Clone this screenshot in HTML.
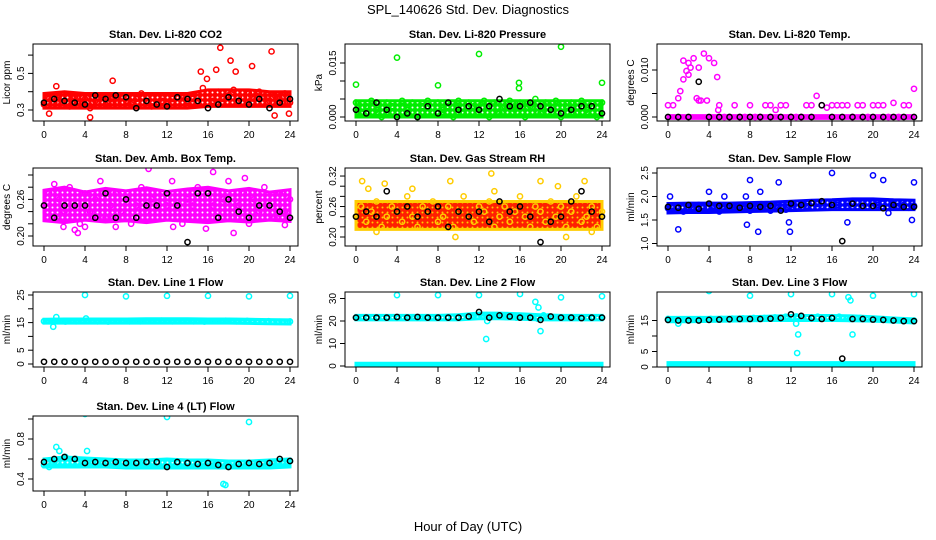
<!DOCTYPE html>
<html><head><meta charset="utf-8"><style>
body{margin:0;background:#fff}
svg{display:block}
text{font-family:"Liberation Sans",sans-serif;fill:#000}
</style></head><body>
<svg id="c" width="936" height="540">
<text x="468" y="14" text-anchor="middle" font-size="13">SPL_140626  Std. Dev. Diagnostics</text>
<text x="468" y="531" text-anchor="middle" font-size="13">Hour of Day (UTC)</text>
</svg>
<script>
const xTicks=[0,4,8,12,16,20,24];
// CO2
const co2Ticks=[0.3,0.4,0.5,0.6], co2Labels=['0.3','','0.5',''];
const co2Vals=[0.33,0.36,0.34,0.38,0.35,0.32,0.37,0.34,0.36,0.31,0.35,0.38,0.33,0.36,0.34,0.37,0.35,0.33,0.36,0.39,0.34,0.32,0.37,0.35,0.33,0.36,0.34,0.38,0.35,0.36,0.34,0.42,0.37,0.35,0.40,0.36,0.38,0.41,0.35,0.37,0.39,0.36,0.40,0.37,0.35,0.38,0.36,0.39,0.34];
const co2OutX=[0.5,1.2,4.5,6.7,15.3,15.9,16.8,17.2,18.2,18.7,20.3,22.2,22.5,23.9];
const co2OutY=[0.28,0.43,0.26,0.46,0.51,0.47,0.52,0.64,0.57,0.51,0.54,0.62,0.27,0.28];
const co2Black=[0.34,0.36,0.35,0.34,0.33,0.38,0.36,0.38,0.37,0.31,0.35,0.33,0.32,0.37,0.36,0.35,0.31,0.33,0.37,0.35,0.33,0.36,0.31,0.34,0.36];
const co2BandLo=[0.31,0.31,0.31,0.31,0.31,0.31,0.31,0.31,0.32,0.32,0.32,0.32,0.32];
const co2BandHi=[0.39,0.40,0.39,0.39,0.39,0.39,0.39,0.39,0.41,0.41,0.41,0.40,0.40];
// Pressure
const prTicks=[0,0.005,0.01,0.015], prLabels=['0.000','','','0.015'];
const prVals=[0.004,0.001,0.003,0.0045,0.002,0.000,0.004,0.003,0.001,0.0045,0.002,0.004,0.000,0.003,0.0045,0.001,0.004,0.002,0.003,0.000,0.0045,0.001,0.004,0.003,0.002,0.0045,0.000,0.004,0.001,0.003,0.0045,0.002,0.004,0.000,0.003,0.005,0.001,0.004,0.002,0.0045,0.000,0.003,0.004,0.001,0.0045,0.002,0.003,0.000,0.004];
const prOutX=[0,4,8,12,15.9,15.9,20,24];
const prOutY=[0.009,0.0165,0.0088,0.0175,0.0095,0.008,0.0195,0.0095];
const prBlack=[0.002,0.001,0.004,0.002,0.000,0.001,0.000,0.003,0.001,0.004,0.002,0.003,0.002,0.003,0.005,0.003,0.003,0.004,0.003,0.002,0.001,0.002,0.003,0.003,0.001];
const prBandLo=[0,0,0,0,0,0,0,0,0,0,0,0,0];
const prBandHi=[0.0045,0.0045,0.0045,0.0045,0.0045,0.0045,0.0045,0.0045,0.0045,0.0045,0.0045,0.0045,0.0045];
// Li-820 Temp
const tpTicks=[0,0.005,0.01], tpLabels=['0.000','','0.010'];
const tpVals=[0.0025,0.0025,0.004,0.012,0.0115,0.0125,0.0035,0.0135,0.0125,0.0115,0.0025,0,0,0.0025,0,0,0.0025,0,0,0.0025,0.0025,0.0015,0.0025,0.0025,0,0,0,0.0025,0.0025,0.0045,0.0025,0.002,0.0025,0.0025,0.0025,0.0025,0,0.0025,0.0025,0,0.0025,0.0025,0.0025,0,0.003,0,0.0025,0.0025,0.006];
const tpOutX=[1.5,2,3,3.2,4.8,4.9,1.8,2.8,3.8,1.2,2.2];
const tpOutY=[0.008,0.009,0.0105,0.0035,0.0085,0.0015,0.0098,0.004,0.0035,0.0055,0.0105];
const tpBlack=[0,0,0,0.0075,0,0,0,0,0,0,0,0,0,0,0,0.0025,0,0,0,0,0,0,0,0,0];
const tpBandLo=[-0.0003,-0.0003,-0.0003,-0.0003,-0.0003,-0.0003,-0.0003,-0.0003,-0.0003,-0.0003,-0.0003,-0.0003,-0.0003];
const tpBandHi=[0.0003,0.0003,0.0003,0.0003,0.0003,0.0003,0.0003,0.0003,0.0003,0.0003,0.0003,0.0003,0.0003];
// Amb box temp
const abTicks=[0.20,0.22,0.24,0.26,0.28,0.30], abLabels=['0.20','','','0.26','',''];
const abVals=[0.25,0.27,0.23,0.26,0.24,0.28,0.25,0.22,0.27,0.24,0.26,0.29,0.23,0.25,0.27,0.24,0.26,0.22,0.25,0.28,0.24,0.26,0.23,0.27,0.25,0.29,0.24,0.22,0.26,0.25,0.28,0.23,0.27,0.25,0.24,0.26,0.29,0.23,0.25,0.27,0.22,0.26,0.24,0.28,0.25,0.23,0.27,0.24,0.26];
const abOutX=[1.0,1.9,3.0,3.3,10.2,12.6,15.8,16.5,18.5,19.6,23.5,4.0,7.0];
const abOutY=[0.285,0.215,0.21,0.205,0.31,0.215,0.212,0.305,0.205,0.295,0.218,0.215,0.215];
const abBlack=[0.25,0.23,0.25,0.25,0.25,0.23,0.27,0.23,0.26,0.23,0.25,0.25,0.27,0.25,0.19,0.27,0.27,0.23,0.26,0.24,0.23,0.25,0.25,0.24,0.23];
const abBandLo=[0.225,0.222,0.226,0.223,0.225,0.222,0.226,0.224,0.222,0.225,0.223,0.226,0.224];
const abBandHi=[0.275,0.28,0.272,0.278,0.274,0.279,0.273,0.277,0.28,0.274,0.278,0.272,0.276];
// RH
const rhTicks=[0.20,0.22,0.24,0.26,0.28,0.30,0.32], rhLabels=['0.20','','','0.26','','','0.32'];
const rhVals=[0.24,0.26,0.23,0.25,0.27,0.22,0.24,0.26,0.25,0.23,0.28,0.24,0.22,0.26,0.25,0.27,0.23,0.24,0.26,0.22,0.25,0.28,0.24,0.23,0.26,0.25,0.27,0.22,0.24,0.26,0.23,0.25,0.28,0.24,0.22,0.26,0.25,0.23,0.27,0.24,0.26,0.22,0.25,0.28,0.23,0.24,0.26,0.22,0.25];
const rhOutX=[0.6,1.2,2.0,2.8,5.5,9.2,9.7,13.2,13.5,18.0,19.7,20.5,22.3,23.0];
const rhOutY=[0.31,0.295,0.21,0.305,0.295,0.31,0.2,0.325,0.29,0.31,0.30,0.2,0.31,0.21];
const rhBlack=[0.24,0.25,0.24,0.29,0.25,0.26,0.24,0.25,0.26,0.22,0.25,0.24,0.25,0.23,0.27,0.25,0.26,0.24,0.19,0.23,0.24,0.27,0.29,0.25,0.24];
const rhBandLo=[0.215,0.215,0.215,0.215,0.215,0.215,0.215,0.215,0.215,0.215,0.215,0.215,0.215];
const rhBandHi=[0.27,0.27,0.27,0.27,0.27,0.27,0.27,0.27,0.27,0.27,0.27,0.27,0.27];
// Sample flow
const sfTicks=[1.0,1.5,2.0,2.5], sfLabels=['1.0','1.5','2.0','2.5'];
const sfVals=[1.75,1.7,1.8,1.68,1.78,1.72,1.82,1.7,1.76,1.8,1.68,1.74,1.78,1.72,1.8,1.75,1.7,1.78,1.82,1.74,1.7,1.8,1.76,1.72,1.82,1.78,1.85,1.8,1.76,1.84,1.8,1.88,1.78,1.82,1.86,1.8,1.84,1.88,1.8,1.86,1.9,1.82,1.85,1.78,1.84,1.8,1.82,1.76,1.8];
const sfOutX=[0.2,1,4,5.5,7.6,8,8.8,10.8,11.8,11.9,16,17.5,20,21,21.5,23.8,24,7.7,9];
const sfOutY=[2.0,1.3,2.1,2.0,2.0,2.35,1.25,2.3,1.45,1.25,2.5,1.45,2.45,2.35,1.65,1.5,2.3,1.4,2.1];
const sfBlack=[1.78,1.76,1.82,1.74,1.85,1.8,1.8,1.76,1.8,1.78,1.8,1.7,1.85,1.82,1.86,1.9,1.82,1.05,1.85,1.8,1.8,1.75,1.82,1.78,1.78];
const sfBandLo=[1.65,1.66,1.66,1.67,1.68,1.69,1.7,1.71,1.72,1.72,1.72,1.72,1.72];
const sfBandHi=[1.85,1.86,1.86,1.86,1.87,1.88,1.9,1.92,1.93,1.95,1.95,1.93,1.92];
// Line 1
const l1Ticks=[0,5,10,15,20,25], l1Labels=['0','5','','15','','25'];
const l1Vals=[15.5,15.6,15.4,15.5,15.7,15.5,15.4,15.6,15.5,15.5,15.6,15.7,15.5,15.6,15.5,15.4,15.6,15.7,15.5,15.6,15.4,15.5,15.3,15.4];
const l1OutX=[4,8,12,16,20,24,0.9,1.2,4.1];
const l1OutY=[25,24.5,24.7,24.7,24.5,24.7,13.5,17,16.5];
const l1Black=[0.8,0.8,0.8,0.8,0.8,0.8,0.8,0.8,0.8,0.8,0.8,0.8,0.8,0.8,0.8,0.8,0.8,0.8,0.8,0.8,0.8,0.8,0.8,0.8,0.8];
const l1BandLo=[14.8,14.8,14.8,14.8,14.8,14.8,14.8,14.8,14.8,14.8,14.7,14.6,14.5];
const l1BandHi=[16.2,16.3,16.3,16.3,16.3,16.4,16.4,16.4,16.3,16.3,16.2,16.1,16.0];
// Line 2
const l2Ticks=[0,10,20,30], l2Labels=['0','10','20','30'];
const l2Vals=[21.5,21.6,21.4,21.5,21.7,21.5,21.4,21.6,21.5,21.5,21.8,22.5,22.0,22.3,21.8,21.5,21.6,21.0,22.0,21.5,21.4,21.5,21.3,21.4];
const l2OutX=[4,8,12,16,20,24,12.7,17.5,17.8,18,18.3,12.8];
const l2OutY=[31.5,31.5,31.5,32,30.5,31,12,28.5,26,15.5,22.5,20];
const l2Black=[21.5,21.5,21.5,21.5,21.8,21.5,21.8,21.5,21.5,21.5,21.5,22,24,21.5,22.5,22,21.5,21.5,20.5,22,21.5,21.5,21.3,21.5,21.5];
const l2BandLo=[20.5,20.5,20.5,20.5,20.5,20.5,21,21,20.8,20.5,20.5,20.5,20.5];
const l2BandHi=[22.5,22.5,22.5,22.5,22.5,22.8,23.5,23.5,23.2,22.8,22.5,22.5,22.5];
const l2Band2Lo=[0,0,0,0,0,0,0,0,0,0,0,0,0];
const l2Band2Hi=[1.2,1.2,1.2,1.2,1.2,1.2,1.2,1.2,1.2,1.2,1.2,1.2,1.2];
// Line 3
const l3Ticks=[0,5,10,15], l3Labels=['0','5','','15'];
const l3Vals=[15.5,15.2,15.3,15.4,15.5,15.5,15.6,15.7,15.8,15.8,16.0,16.2,16.3,16.0,16.2,15.8,16.2,15.5,15.8,15.5,15.3,15.0,14.8,15.0];
const l3OutX=[4,8,12,16,20,24,12.5,12.7,12.6,17.6,17.8,18,1];
const l3OutY=[24.5,23,23.5,23.5,23,23.5,14,10.5,4.5,22.5,21.5,10.5,14];
const l3Black=[15.2,15,15,15,15.2,15.3,15.4,15.5,15.5,15.5,15.6,15.8,17,16.5,15.8,15.5,15.8,2.7,15.5,15.5,15.3,15.2,15,14.8,14.8];
const l3BandLo=[14.6,14.6,14.7,14.8,14.9,15,15,15,15,14.9,14.8,14.5,14.2];
const l3BandHi=[16.0,16.0,16.0,16.1,16.2,16.4,16.6,16.6,16.6,16.5,16.2,15.8,15.5];
const l3Band2Lo=[0,0,0,0,0,0,0,0,0,0,0,0,0];
const l3Band2Hi=[1.4,1.4,1.4,1.4,1.4,1.4,1.4,1.4,1.4,1.4,1.4,1.4,1.4];
// Line 4
const l4Ticks=[0.4,0.6,0.8,1.0], l4Labels=['0.4','','0.8',''];
const l4Vals=[0.54,0.58,0.62,0.6,0.58,0.57,0.56,0.55,0.57,0.55,0.56,0.57,0.55,0.57,0.56,0.56,0.55,0.54,0.55,0.54,0.56,0.55,0.57,0.58];
const l4OutX=[4,12,20,1.2,1.5,4.2,17.5,17.7,0.5];
const l4OutY=[1.05,1.02,0.97,0.72,0.68,0.68,0.35,0.34,0.52];
const l4Black=[0.57,0.6,0.62,0.6,0.56,0.57,0.56,0.57,0.56,0.56,0.57,0.57,0.52,0.57,0.56,0.55,0.56,0.54,0.52,0.55,0.56,0.55,0.56,0.6,0.58];
const l4BandLo=[0.52,0.52,0.52,0.52,0.51,0.51,0.51,0.51,0.51,0.51,0.51,0.51,0.52];
const l4BandHi=[0.6,0.62,0.61,0.6,0.59,0.59,0.6,0.59,0.59,0.58,0.58,0.59,0.6];

const panels=[
{c:0,r:0,title:'Stan. Dev. Li-820 CO2',ylab:'Licor ppm',v0:0.3,y0:110,k:183,ticks:co2Ticks,labels:co2Labels,color:'#ff0000',vals:co2Vals,ox:co2OutX,oy:co2OutY,black:co2Black,bands:[[co2BandLo,co2BandHi]]},
{c:1,r:0,title:'Stan. Dev. Li-820 Pressure',ylab:'kPa',v0:0,y0:117,k:3600,ticks:prTicks,labels:prLabels,color:'#00ee00',vals:prVals,ox:prOutX,oy:prOutY,black:prBlack,bands:[[prBandLo,prBandHi]]},
{c:2,r:0,title:'Stan. Dev. Li-820 Temp.',ylab:'degrees C',v0:0,y0:117,k:4700,ticks:tpTicks,labels:tpLabels,color:'#ff00ff',vals:tpVals,ox:tpOutX,oy:tpOutY,black:tpBlack,bands:[[tpBandLo,tpBandHi]]},
{c:0,r:1,title:'Stan. Dev. Amb. Box Temp.',ylab:'degrees C',v0:0.2,y0:236,k:610,ticks:abTicks,labels:abLabels,color:'#ff00ff',vals:abVals,ox:abOutX,oy:abOutY,black:abBlack,bands:[[abBandLo,abBandHi]]},
{c:1,r:1,title:'Stan. Dev. Gas Stream RH',ylab:'percent',v0:0.2,y0:237,k:508,ticks:rhTicks,labels:rhLabels,color:'#ffcc00',fill:'#ff2000',vals:rhVals,ox:rhOutX,oy:rhOutY,black:rhBlack,bands:[[rhBandLo,rhBandHi]]},
{c:2,r:1,title:'Stan. Dev. Sample Flow',ylab:'ml/min',v0:1,y0:243.5,k:47,ticks:sfTicks,labels:sfLabels,color:'#0000ff',vals:sfVals,ox:sfOutX,oy:sfOutY,black:sfBlack,bands:[[sfBandLo,sfBandHi]]},
{c:0,r:2,title:'Stan. Dev. Line 1 Flow',ylab:'ml/min',v0:0,y0:364,k:2.76,ticks:l1Ticks,labels:l1Labels,color:'#00ffff',vals:l1Vals,ox:l1OutX,oy:l1OutY,black:l1Black,bands:[[l1BandLo,l1BandHi]]},
{c:1,r:2,title:'Stan. Dev. Line 2 Flow',ylab:'ml/min',v0:0,y0:366,k:2.25,ticks:l2Ticks,labels:l2Labels,color:'#00ffff',vals:l2Vals,ox:l2OutX,oy:l2OutY,black:l2Black,bands:[[l2BandLo,l2BandHi],[l2Band2Lo,l2Band2Hi]]},
{c:2,r:2,title:'Stan. Dev. Line 3 Flow',ylab:'ml/min',v0:0,y0:367,k:3.1,ticks:l3Ticks,labels:l3Labels,color:'#00ffff',vals:l3Vals,ox:l3OutX,oy:l3OutY,black:l3Black,bands:[[l3BandLo,l3BandHi],[l3Band2Lo,l3Band2Hi]]},
{c:0,r:3,title:'Stan. Dev. Line 4 (LT) Flow',ylab:'ml/min',v0:0.6,y0:459,k:100,ticks:l4Ticks,labels:l4Labels,color:'#00ffff',vals:l4Vals,ox:l4OutX,oy:l4OutY,black:l4Black,bands:[[l4BandLo,l4BandHi]]}
];
const rowTop=[44,168,292,416], rowBot=[121,246,367,491];
const svg=document.getElementById('c'), NS='http://www.w3.org/2000/svg';
function mk(tag,a,parent){const e=document.createElementNS(NS,tag);for(const k in a)e.setAttribute(k,a[k]);(parent||svg).appendChild(e);return e;}
const defs=mk('defs',{});
panels.forEach((p,pi)=>{
  const L=33+312*p.c,R=298+312*p.c,T=rowTop[p.r],B=rowBot[p.r];
  const xs=h=>44+312*p.c+h*(246/24);
  const ys=v=>p.y0-(v-p.v0)*p.k;
  const pat=mk('pattern',{id:'pt'+pi,width:5,height:5,patternUnits:'userSpaceOnUse'},defs);
  mk('rect',{width:5,height:5,fill:p.fill||p.color},pat);
  mk('circle',{cx:2.5,cy:2.5,r:1,fill:p.fill?'#ffcc00':'#fff'},pat);
  const g=mk('g',{});
  
  
  const cl=mk('clipPath',{id:'cp'+pi},g);mk('rect',{x:L,y:T,width:R-L,height:B-T},cl);
  const t=mk('text',{x:(L+R)/2,y:T-6,'text-anchor':'middle','font-size':'11','font-weight':'bold'},g);t.textContent=p.title;
  
  
  const yl=mk('text',{x:0,y:0,transform:`translate(${L-23},${(T+B)/2}) rotate(-90)`,'text-anchor':'middle','font-size':'10'},g);yl.textContent=p.ylab;
  
  
  const plot=mk('g',{'clip-path':`url(#cp${pi})`},g);
  
  
  p.bands.forEach(([lo,hi])=>{
    const n=lo.length;let pts=[];
    for(let i=0;i<n;i++)pts.push(xs(i*24/(n-1))+','+ys(hi[i]));
    for(let i=n-1;i>=0;i--)pts.push(xs(i*24/(n-1))+','+ys(lo[i]));
    const b=mk('polygon',{points:pts.join(' '),fill:`url(#pt${pi})`,stroke:p.color,'stroke-width':3},plot);
    
    
  });
  const n=p.vals.length;
  p.vals.forEach((v,i)=>{const c=mk('circle',{cx:xs(i*24/(n-1)),cy:ys(v),r:2.6,fill:'none',stroke:p.color,'stroke-width':1.5},plot);
    
    });
  p.ox.forEach((h,i)=>{const c=mk('circle',{cx:xs(h),cy:ys(p.oy[i]),r:2.6,fill:'none',stroke:p.color,'stroke-width':1.5},plot);
    
    });
  const m=p.black.length;
  p.black.forEach((v,i)=>{const c=mk('circle',{cx:xs(i*24/(m-1)),cy:ys(v),r:2.6,fill:'none',stroke:'#000','stroke-width':1.5},plot);
    
    });
  const box=mk('rect',{x:L,y:T,width:R-L,height:B-T,fill:'none',stroke:'#000','stroke-width':1},g);
  
  
  xTicks.forEach(h=>{mk('line',{x1:xs(h),x2:xs(h),y1:B,y2:B+5,stroke:'#000'},g);
    const tx=mk('text',{x:xs(h),y:B+17,'text-anchor':'middle','font-size':'10'},g);tx.textContent=h;
    
    });
  p.ticks.forEach((v,i)=>{const y=ys(v);mk('line',{x1:L-5,x2:L,y1:y,y2:y,stroke:'#000'},g);
    if(p.labels[i]){const ty=mk('text',{x:0,y:0,transform:`translate(${L-9},${y}) rotate(-90)`,'text-anchor':'middle','font-size':'10'},g);ty.textContent=p.labels[i];
      
      }});
});
</script>
</body></html>
